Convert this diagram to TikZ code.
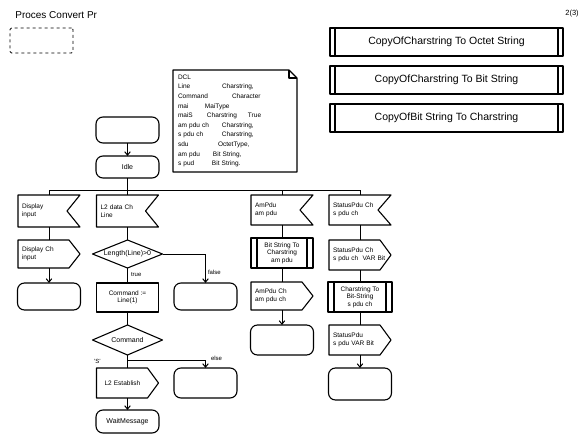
\documentclass[tikz,border=0pt]{standalone}
\usepackage{fontspec}
\setmainfont{Liberation Sans}
\usetikzlibrary{arrows.meta,calc}

% outlines of the SDL symbols, drawn from the anchors of invisible rectangle nodes
\newcommand\drawinput[1]{\draw[frame] (#1.north west) -- (#1.north east) -- ([xshift=-13pt]#1.east) -- (#1.south east) -- (#1.south west) -- cycle;}
\newcommand\drawoutput[1]{\draw[frame] (#1.north west) -- ([xshift=-11pt]#1.north east) -- (#1.east) -- ([xshift=-11pt]#1.south east) -- (#1.south west) -- cycle;}
\newcommand\drawdecision[1]{\draw[frame] (#1.west) -- (#1.north) -- (#1.east) -- (#1.south) -- cycle;}
\newcommand\drawproc[2]{\draw[frame] (#1.north west) rectangle (#1.south east);
  \draw[frame] ([xshift=#2]#1.north west) -- ([xshift=#2]#1.south west);
  \draw[frame] ([xshift=-#2]#1.north east) -- ([xshift=-#2]#1.south east);}

\begin{document}
\begin{tikzpicture}[x=1pt,y=-1pt,
  every node/.style={font=\fontsize{6.5}{7.5}\selectfont, outer sep=0pt},
  frame/.style={line width=1.1pt, line join=round},
  wire/.style={line width=1pt},
  arr/.style={wire, -{Straight Barb[length=3.5pt,width=5.5pt]}},
  flag/.style={minimum width=62pt, minimum height=30pt, text width=54pt, inner xsep=4pt, inner ysep=0pt, align=left},
  sdlstate/.style={draw, frame, rounded corners=7pt, minimum width=63pt, minimum height=27pt, inner sep=1pt, align=center},
  sdltask/.style={draw, frame, minimum width=62pt, minimum height=29pt, inner sep=1pt, align=center},
  choice/.style={minimum width=70pt, minimum height=28pt, inner sep=0pt, align=center, font=\fontsize{7}{8}\selectfont},
  callbox/.style={minimum width=62pt, minimum height=30pt, inner sep=0pt, align=center},
  lbl/.style={font=\fontsize{6}{7}\selectfont, inner sep=0pt}
]
\useasboundingbox (0,0) rectangle (587,442);

% heading, page number, text extension frame
\node[anchor=west, font=\fontsize{10}{12}\selectfont] (title) at (12,15) {Proces Convert Pr};
\node[font=\fontsize{7.5}{9}\selectfont] (page) at (572,14) {2(3)};
\node[draw, dashed, line width=0.9pt, rounded corners=1.5pt, minimum width=63pt, minimum height=25pt] (ext) at (41.5,40.5) {};

% procedure references
\begin{scope}[every node/.style={font=\fontsize{10.5}{12}\selectfont, minimum width=233pt, minimum height=28pt, inner sep=0pt, outer sep=0pt}]
\node (p1) at (446.5,42) {CopyOfCharstring To Octet String};
\node (p2) at (446.5,80) {CopyOfCharstring To Bit String};
\node (p3) at (446.5,118) {CopyOfBit String To Charstring};
\end{scope}
\drawproc{p1}{5pt}
\drawproc{p2}{5pt}
\drawproc{p3}{5pt}

% declarations
\node[anchor=north west, minimum height=102pt, text width=114pt, inner xsep=5pt, inner ysep=2pt, align=left,
      font=\fontsize{6.5}{9.6}\selectfont] (dcl) at (173,70) {%
DCL\\
\makebox[44pt][l]{Line}Charstring,\\
\makebox[54pt][l]{Command}Character\\
\makebox[27pt][l]{mai}MaiType\\
\makebox[29pt][l]{maiS}\makebox[41pt][l]{Charstring}True\\
\makebox[44pt][l]{am pdu ch}Charstring,\\
\makebox[44pt][l]{s pdu ch}Charstring,\\
\makebox[40pt][l]{sdu}OctetType,\\
\makebox[35pt][l]{am pdu}Bit String,\\
\makebox[34pt][l]{s pud}Bit String.};
\draw[frame] (dcl.north west) -- ([xshift=-8pt]dcl.north east) -- ([yshift=-8pt]dcl.north east) -- (dcl.south east) -- (dcl.south west) -- cycle;
\draw[frame] ([xshift=-8pt]dcl.north east) -- ([xshift=-8pt,yshift=-8pt]dcl.north east) -- ([yshift=-8pt]dcl.north east);

% start and idle state
\node[sdlstate, minimum height=26pt] (start) at (127.5,130) {};
\node[sdlstate, minimum height=22pt, font=\fontsize{7}{8}\selectfont] (idle) at (127.5,167) {Idle};
\draw[arr] (start) -- (idle);

% signal inputs
\node[flag, minimum height=32pt] (dIn) at (49,211) {Display\\input};
\node[flag, minimum height=32pt] (lIn) at (127.5,211) {L2 data Ch\\Line};
\node[flag] (aIn) at (282,210) {AmPdu\\am pdu};
\node[flag] (sIn) at (360,210) {StatusPdu Ch\\s pdu ch};
\drawinput{dIn}
\drawinput{lIn}
\drawinput{aIn}
\drawinput{sIn}

% bus from the idle state to the inputs
\coordinate (busL) at (49,190);
\coordinate (busR) at (360,190);
\draw[wire] (busL) -- (busR);
\draw[wire] (idle.south) -- (idle.south |- busL);
\draw[wire] (dIn.north |- busL) -- (dIn.north);
\draw[wire] (lIn.north |- busL) -- (lIn.north);
\draw[wire] (aIn.north |- busL) -- (aIn.north);
\draw[wire] (sIn.north |- busL) -- (sIn.north);

% Display branch
\node[flag, minimum height=28pt] (dOut) at (49,254) {Display Ch\\input};
\drawoutput{dOut}
\node[sdlstate] (dSt) at (49,296.5) {};
\draw[wire] (dIn) -- (dOut);
\draw[arr] (dOut) -- (dSt);

% L2 data branch
\node[choice] (lDec) at (127.5,254) {Length(Line)>0};
\drawdecision{lDec}
\node[sdltask] (lTask) at (127.5,297.5) {Command :=\\Line(1)};
\node[sdlstate] (fSt) at (205.5,296.5) {};
\node[choice, minimum height=30pt] (lCmd) at (127.5,340) {Command};
\drawdecision{lCmd}
\node[flag] (lEst) at (127.5,383) {\hspace*{4pt}L2 Establish};
\drawoutput{lEst}
\node[sdlstate, minimum height=23pt, font=\fontsize{7}{8}\selectfont] (lWait) at (127.5,421.5) {WaitMessage};
\node[sdlstate, minimum height=30pt] (eSt) at (205.5,383) {};
\coordinate (fTurn) at (fSt.north |- lDec.east);
\coordinate (sJoin) at (127.5,360);
\coordinate (eTurn) at (eSt.north |- sJoin);
\draw[wire] (lIn) -- (lDec);
\draw[wire] (lDec.south) -- (lTask.north);
\draw[wire] (lDec.east) -- (fTurn);
\draw[arr] (fTurn) -- (fSt.north);
\draw[wire] (lTask) -- (lCmd);
\draw[wire] (lCmd.south) -- (lEst.north);
\draw[wire] (sJoin) -- (eTurn);
\draw[arr] (eTurn) -- (eSt.north);
\draw[arr] (lEst) -- (lWait);
\node[lbl, anchor=west] (tTrue) at (131,275) {true};
\node[lbl, anchor=west] (tFalse) at (208,272) {false};
\node[lbl, anchor=west] (tS) at (94,361) {'S'};
\node[lbl, anchor=west] (tElse) at (211,358) {else};

% AmPdu branch
\node[callbox] (aProc) at (282,253) {Bit String To\\Charstring\\am pdu};
\drawproc{aProc}{6pt}
\node[flag, minimum height=28pt] (aOut) at (282,296) {AmPdu Ch\\am pdu ch};
\drawoutput{aOut}
\node[sdlstate, minimum height=30pt] (aSt) at (282,340) {};
\draw[wire] (aIn) -- (aProc);
\draw[wire] (aProc) -- (aOut);
\draw[arr] (aOut) -- (aSt);

% StatusPdu branch
\node[flag] (sOut1) at (360,255) {StatusPdu Ch\\s pdu ch\ \ VAR Bit};
\drawoutput{sOut1}
\node[callbox, minimum width=64pt] (sProc) at (360,297) {Charstring To\\Bit-String\\s pdu ch};
\drawproc{sProc}{6pt}
\node[flag] (sOut2) at (360,340) {StatusPdu\\s pdu VAR Bit};
\drawoutput{sOut2}
\node[sdlstate, minimum height=32pt] (sSt) at (360,384) {};
\draw[wire] (sIn) -- (sOut1);
\draw[wire] (sOut1) -- (sProc);
\draw[wire] (sProc) -- (sOut2);
\draw[arr] (sOut2) -- (sSt);
\end{tikzpicture}
\end{document}
